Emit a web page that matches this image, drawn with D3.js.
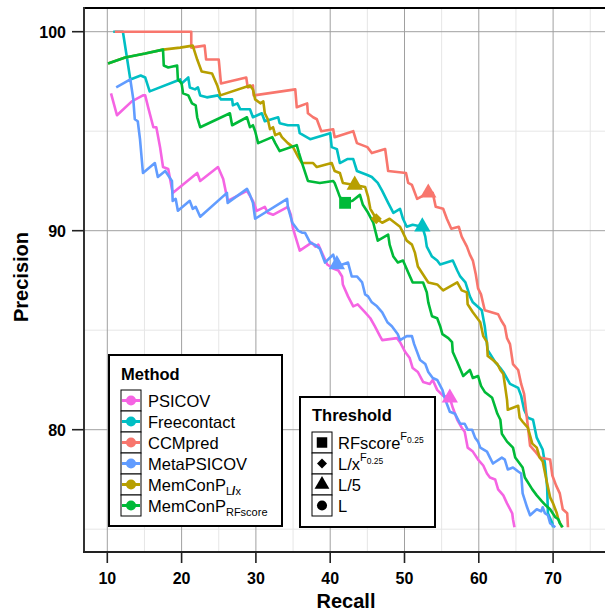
<!DOCTYPE html>
<html>
<head>
<meta charset="utf-8">
<script src="https://cdn.jsdelivr.net/npm/d3@7"></script>
<style>
  body { margin: 0; background: #fff; }
  text { font-family: "Liberation Sans", Arial, Helvetica, sans-serif; }
</style>
</head>
<body>
<div id="chart"></div>
<script>
// recall / precision pairs
var psicov = [[10.5,96.9],[11.3,95.8],[13.3,96.5],[14.8,96.8],[15.1,96.8],[15.5,96.2],[16.2,95.2],[16.6,95.2],[17.1,94.2],[17.5,93.2],[18.2,93.1],[18.8,91.9],[22.1,92.9],[22.5,92.5],[24.9,93.2],[25.6,92.6],[26.2,91.5],[28.8,92.0],[29.6,91.5],[30.1,91.0],[31.2,91.2],[31.6,90.9],[32.3,90.8],[34.3,91.2],[34.7,90.8],[35.0,90.1],[35.9,89.0],[37.5,89.4],[38.0,89.2],[38.4,89.3],[39.0,88.8],[39.6,88.3],[40.4,88.1],[41.1,88.0],[41.6,87.7],[41.7,87.3],[42.4,86.7],[43.1,86.2],[43.7,86.3],[44.7,85.9],[45.4,85.6],[46.0,85.2],[46.7,84.7],[47.0,84.5],[49.0,84.6],[49.4,84.4],[50.1,83.9],[50.7,83.6],[51.1,83.1],[51.8,82.9],[52.5,82.4],[53.4,82.3],[53.8,82.5],[54.4,82.0],[55.2,81.7],[56.1,81.6],[56.5,81.1],[57.1,80.5],[57.7,80.1],[58.1,79.9],[58.5,79.1],[59.2,78.9],[59.9,78.5],[60.6,78.2],[61.1,77.8],[61.5,77.6],[62.2,77.5],[62.6,77.0],[63.3,76.7],[63.8,76.3],[64.5,75.8],[64.6,75.5],[64.8,75.1]];

var freecontact = [[10.8,100],[12.1,100],[13.1,97.6],[14.5,97.8],[15.1,97.7],[15.7,97.0],[19.8,97.6],[20.0,97.4],[20.9,97.7],[21.1,97.2],[21.8,97.1],[22.2,97.2],[22.5,96.8],[23.4,96.7],[24.9,96.8],[25.3,96.6],[26.8,96.6],[26.9,96.3],[27.5,96.4],[27.9,96.1],[29.2,96.1],[29.6,95.7],[30.8,95.9],[31.2,95.5],[33.0,95.7],[33.2,95.4],[34.3,95.3],[35.7,95.3],[35.9,94.9],[37.3,94.6],[40.0,94.9],[40.2,94.2],[40.9,94.1],[41.3,93.4],[42.3,93.6],[43.1,93.6],[43.6,93.0],[45.0,92.8],[45.6,92.7],[46.4,92.4],[47.0,92.0],[47.8,91.4],[48.5,90.9],[49.4,91.1],[49.8,90.6],[50.3,90.2],[51.1,90.3],[52.4,90.2],[52.8,89.7],[53.0,89.2],[53.7,88.7],[54.4,88.5],[54.8,88.3],[56.5,88.5],[57.1,88.0],[57.5,87.7],[58.2,87.4],[58.8,86.7],[59.2,86.4],[60.4,86.0],[60.8,85.2],[61.2,84.0],[62.2,83.4],[62.9,83.1],[63.3,82.9],[64.2,82.3],[65.3,82.1],[65.7,81.7],[66.1,81.0],[66.6,80.6],[67.3,80.5],[67.8,79.6],[68.6,79.0],[68.9,78.3],[69.2,77.1],[69.3,75.8],[69.9,75.3],[70.0,75.1]];

var ccmpred = [[11.0,100],[21.3,100],[21.3,99.2],[23.1,99.3],[23.3,98.6],[24.2,98.6],[25.0,98.6],[25.3,97.4],[28.7,97.7],[28.9,97.2],[29.6,97.3],[29.7,96.8],[35.3,97.1],[35.5,96.2],[36.9,96.4],[37.0,95.9],[37.7,95.7],[38.2,95.6],[38.8,95.0],[40.4,95.1],[40.6,94.7],[43.1,95.0],[43.6,94.4],[45.0,94.2],[45.6,93.9],[47.4,94.1],[47.8,93.0],[50.2,92.9],[50.5,92.4],[51.0,92.3],[51.7,91.6],[53.2,91.9],[53.8,91.9],[54.2,91.2],[55.2,91.1],[55.7,90.6],[56.3,90.1],[57.3,90.2],[57.7,89.7],[58.4,89.2],[58.8,88.8],[59.2,88.5],[59.6,87.8],[59.9,87.1],[60.3,86.8],[60.8,86.0],[62.6,85.8],[63.0,85.5],[63.5,85.2],[63.8,84.6],[64.2,84.3],[64.6,83.3],[65.3,83.0],[65.7,82.3],[66.1,81.8],[66.5,80.5],[66.9,79.2],[67.6,78.9],[68.2,78.6],[69.6,78.5],[69.9,77.7],[70.4,77.2],[70.9,76.8],[71.3,76.0],[71.9,75.8],[72.0,75.1]];

var metapsicov = [[11.2,97.2],[13.1,97.6],[13.5,96.6],[13.7,95.6],[14.1,95.5],[14.4,94.6],[14.8,92.9],[16.4,93.4],[16.8,92.7],[17.8,93.0],[18.7,92.5],[18.8,91.5],[19.2,91.6],[19.5,91.0],[21.1,91.5],[21.5,91.1],[21.9,91.2],[22.5,90.7],[26.1,91.9],[26.2,91.4],[28.8,92.1],[29.2,91.8],[29.6,91.4],[29.9,90.6],[34.2,91.6],[34.3,91.2],[34.9,90.4],[35.7,90.0],[36.2,89.9],[36.6,89.9],[37.3,89.4],[37.9,89.3],[38.6,89.1],[39.3,88.4],[40.4,88.8],[40.9,88.2],[42.4,88.4],[42.9,87.7],[43.6,87.7],[44.3,87.4],[44.7,86.8],[45.1,86.7],[45.6,86.4],[46.3,86.2],[47.0,85.9],[47.7,85.4],[48.3,85.2],[49.1,84.8],[49.4,84.5],[50.3,84.7],[51.0,84.7],[51.3,84.3],[52.1,83.5],[52.8,83.3],[53.2,82.9],[53.8,82.6],[54.4,82.5],[55.1,82.0],[55.4,81.6],[55.9,81.1],[56.1,80.9],[56.8,80.8],[57.5,80.3],[58.1,80.3],[58.5,80.0],[59.1,80.0],[59.5,79.6],[59.9,79.4],[60.2,79.1],[61.1,78.9],[61.5,78.6],[61.9,78.3],[63.1,78.6],[63.5,78.5],[63.9,78.0],[64.6,78.1],[65.3,77.9],[65.7,77.8],[65.9,76.8],[66.5,76.1],[66.9,75.7],[67.8,76.0],[68.4,75.9],[68.6,76.1],[68.9,75.8],[69.3,75.7],[69.6,75.3],[70.3,75.1]];

var memconpLx = [[10.1,98.4],[12.4,98.7],[15.1,98.9],[17.5,99.1],[19.8,99.2],[21.5,99.3],[22.1,98.6],[22.7,98.0],[24.1,97.9],[24.8,97.3],[25.2,96.8],[29.2,97.3],[29.6,97.1],[29.9,96.6],[30.6,96.4],[31.0,96.5],[31.2,95.9],[31.6,95.6],[31.9,95.1],[32.3,95.2],[32.6,94.8],[33.2,94.9],[33.5,94.7],[34.3,94.4],[35.0,94.2],[35.7,93.7],[36.2,93.4],[37.7,93.4],[38.2,93.2],[40.2,93.4],[40.6,93.0],[41.3,92.9],[41.7,92.4],[43.3,92.3],[44.7,92.2],[45.1,91.7],[45.4,91.1],[46.2,90.6],[47.0,90.4],[48.0,90.6],[48.7,90.4],[49.4,90.2],[49.8,89.9],[50.3,89.5],[51.0,89.3],[51.4,88.9],[51.8,88.2],[52.5,87.8],[53.2,87.4],[54.4,87.3],[55.2,87.0],[57.1,87.4],[57.7,87.0],[58.4,86.9],[58.5,86.3],[59.2,85.9],[60.2,85.4],[60.6,84.7],[61.1,84.4],[61.2,83.7],[61.9,83.5],[62.5,83.3],[62.9,83.0],[63.3,82.8],[63.8,81.5],[63.9,81.0],[65.3,81.2],[65.5,80.6],[65.9,80.4],[66.6,80.1],[67.2,79.3],[67.8,79.1],[68.2,78.6],[68.6,78.4],[69.2,77.3],[69.6,76.6],[70.0,76.3],[70.5,75.8],[70.7,75.5],[71.2,75.1]];

var memconpRF = [[10.1,98.4],[12.4,98.7],[15.1,98.9],[17.5,99.1],[17.6,98.3],[18.2,98.2],[19.4,98.3],[19.5,97.6],[20.0,97.4],[20.2,96.9],[20.9,96.8],[21.4,96.4],[21.9,96.3],[22.1,95.7],[22.5,95.2],[26.5,95.9],[26.8,95.3],[28.8,95.7],[29.2,95.2],[29.6,95.3],[29.9,95.0],[30.3,94.4],[32.2,94.7],[32.6,94.4],[33.2,94.0],[35.5,94.3],[35.8,93.9],[36.3,93.3],[37.0,92.5],[38.6,92.4],[40.4,92.5],[40.6,92.4],[40.9,92.1],[41.3,91.7],[42.0,91.4],[43.0,91.5],[44.0,91.8],[44.4,91.3],[45.1,90.9],[45.8,90.4],[46.4,89.5],[47.8,89.8],[48.0,89.3],[48.5,88.7],[49.1,88.4],[49.8,88.5],[50.5,87.9],[51.1,87.4],[52.5,87.4],[53.0,86.9],[53.2,86.4],[53.7,85.7],[54.4,85.6],[54.8,85.2],[55.1,84.8],[55.9,84.6],[56.4,84.4],[56.5,83.9],[57.1,83.4],[57.9,82.7],[58.8,83.0],[59.2,82.6],[59.9,82.7],[60.3,82.2],[60.8,81.9],[61.8,81.6],[62.5,80.8],[62.9,80.5],[63.1,79.8],[63.8,79.4],[64.6,79.1],[64.9,78.6],[65.9,78.1],[66.2,77.6],[67.2,77.0],[67.8,76.7],[68.5,76.4],[69.0,76.2],[69.6,76.0],[70.3,75.6],[70.7,75.5],[70.9,75.3],[71.3,75.1]];

var methodNames = ["PSICOV", "Freecontact", "CCMpred", "MetaPSICOV", "MemConP_Lx", "MemConP_RF"];
var methodData = [psicov, freecontact, ccmpred, metapsicov, memconpLx, memconpRF];
var methodColors = ["#F564E3", "#00BFC4", "#F8766D", "#619CFF", "#B79F00", "#00BA38"];

// threshold markers: method index, shape, recall, precision
var markerMethod = [2, 1, 3, 0, 4, 4, 5];
var markerShape = ["L/5", "L/5", "L/5", "L/5", "L/5", "L/x", "RFscore"];
var markerRecall = [53.2, 52.4, 40.9, 56.1, 43.3, 46.2, 42.0];
var markerPrecision = [91.9, 90.2, 88.3, 81.6, 92.3, 90.6, 91.4];

var xTicks = [10, 20, 30, 40, 50, 60, 70];
var yTicks = [80, 90, 100];
var xMinor = [15, 25, 35, 45, 55, 65, 75];
var yMinor = [75, 85, 95];

var W = 605, H = 614;
var pLeft = 84, pTop = 8, pBottom = 552, pRight = 620;

var x = d3.scaleLinear().domain([10, 70]).range([107.3, 553.1]);
var y = d3.scaleLinear().domain([80, 100]).range([429.7, 31.7]);

var svg = d3.select("#chart").append("svg")
    .attr("width", W)
    .attr("height", H);

svg.append("defs").append("clipPath").attr("id", "clip")
    .append("rect")
    .attr("x", pLeft).attr("y", pTop)
    .attr("width", pRight - pLeft).attr("height", pBottom - pTop);

// grid
var grid = svg.append("g");
grid.selectAll(".vmin").data(xMinor).enter().append("line")
    .attr("x1", function(d){ return x(d); }).attr("x2", function(d){ return x(d); })
    .attr("y1", pTop).attr("y2", pBottom)
    .attr("stroke", "#e6e6e6").attr("stroke-width", 1);
grid.selectAll(".hmin").data(yMinor).enter().append("line")
    .attr("x1", pLeft).attr("x2", pRight)
    .attr("y1", function(d){ return y(d); }).attr("y2", function(d){ return y(d); })
    .attr("stroke", "#e6e6e6").attr("stroke-width", 1);
grid.selectAll(".vmaj").data(xTicks).enter().append("line")
    .attr("x1", function(d){ return x(d); }).attr("x2", function(d){ return x(d); })
    .attr("y1", pTop).attr("y2", pBottom)
    .attr("stroke", "#a0a0a0").attr("stroke-width", 1);
grid.selectAll(".hmaj").data(yTicks).enter().append("line")
    .attr("x1", pLeft).attr("x2", pRight)
    .attr("y1", function(d){ return y(d); }).attr("y2", function(d){ return y(d); })
    .attr("stroke", "#a0a0a0").attr("stroke-width", 1);

// curves
var line = d3.line()
    .x(function(d){ return x(d[0]); })
    .y(function(d){ return y(d[1]); });

var plot = svg.append("g").attr("clip-path", "url(#clip)");
for (var i = 0; i < methodData.length; i++) {
    plot.append("path")
        .attr("d", line(methodData[i]))
        .attr("fill", "none")
        .attr("stroke", methodColors[i])
        .attr("stroke-width", 2.6)
        .attr("stroke-linejoin", "round");
}

function shapePath(s, big) {
    if (s === "RFscore") return d3.symbol().type(d3.symbolSquare).size(big ? 140 : 110)();
    if (s === "L/x") return d3.symbol().type(d3.symbolSquare).size(big ? 60 : 50)();
    if (s === "L/5") return d3.symbol().type(d3.symbolTriangle).size(big ? 115 : 95)();
    return d3.symbol().type(d3.symbolCircle).size(big ? 90 : 80)();
}

for (var k = 0; k < markerMethod.length; k++) {
    plot.append("path")
        .attr("d", shapePath(markerShape[k], true))
        .attr("fill", methodColors[markerMethod[k]])
        .attr("transform", "translate(" + x(markerRecall[k]) + "," + y(markerPrecision[k]) + ")" +
              (markerShape[k] === "L/x" ? " rotate(45)" : ""));
}

// panel border / axes
svg.append("line").attr("x1", pLeft).attr("x2", W).attr("y1", pTop).attr("y2", pTop)
    .attr("stroke", "#000").attr("stroke-width", 2);
svg.append("line").attr("x1", pLeft).attr("x2", pLeft).attr("y1", pTop - 1).attr("y2", pBottom + 1)
    .attr("stroke", "#333").attr("stroke-width", 2);
svg.append("line").attr("x1", pLeft - 1).attr("x2", W).attr("y1", pBottom).attr("y2", pBottom)
    .attr("stroke", "#222").attr("stroke-width", 2);

var xAxis = svg.append("g");
xAxis.selectAll("line").data(xTicks).enter().append("line")
    .attr("x1", function(d){ return x(d); }).attr("x2", function(d){ return x(d); })
    .attr("y1", pBottom).attr("y2", pBottom + 11)
    .attr("stroke", "#222").attr("stroke-width", 1.6);
xAxis.selectAll("text").data(xTicks).enter().append("text")
    .attr("x", function(d){ return x(d); })
    .attr("y", 584)
    .attr("text-anchor", "middle")
    .attr("font-size", "16px").attr("font-weight", "bold")
    .text(function(d){ return d; });

var yAxis = svg.append("g");
yAxis.selectAll("line").data(yTicks).enter().append("line")
    .attr("x1", pLeft - 12).attr("x2", pLeft)
    .attr("y1", function(d){ return y(d); }).attr("y2", function(d){ return y(d); })
    .attr("stroke", "#222").attr("stroke-width", 1.6);
yAxis.selectAll("text").data(yTicks).enter().append("text")
    .attr("x", 66)
    .attr("y", function(d){ return y(d) + 6; })
    .attr("text-anchor", "end")
    .attr("font-size", "16px").attr("font-weight", "bold")
    .text(function(d){ return d; });

svg.append("text")
    .attr("x", 346).attr("y", 608)
    .attr("text-anchor", "middle")
    .attr("font-size", "20px").attr("font-weight", "bold")
    .text("Recall");
svg.append("text")
    .attr("transform", "translate(28,277) rotate(-90)")
    .attr("text-anchor", "middle")
    .attr("font-size", "20px").attr("font-weight", "bold")
    .text("Precision");

// method legend
var leg = svg.append("g");
leg.append("rect").attr("x", 109).attr("y", 355).attr("width", 173).attr("height", 171)
    .attr("fill", "#fff").attr("stroke", "#000").attr("stroke-width", 2);
leg.append("text").attr("x", 121).attr("y", 380)
    .attr("font-size", "16.5px").attr("font-weight", "bold").text("Method");

var rowH = 21;
for (var m = 0; m < methodNames.length; m++) {
    var ty = 390 + m * rowH;
    leg.append("rect").attr("x", 121).attr("y", ty).attr("width", 20).attr("height", rowH)
        .attr("fill", "#fff").attr("stroke", "#000").attr("stroke-width", 1);
    leg.append("line").attr("x1", 122).attr("x2", 140).attr("y1", ty + rowH / 2).attr("y2", ty + rowH / 2)
        .attr("stroke", methodColors[m]).attr("stroke-width", 3);
    leg.append("circle").attr("cx", 131).attr("cy", ty + rowH / 2).attr("r", 5)
        .attr("fill", methodColors[m]);
    var t = leg.append("text").attr("x", 148).attr("y", ty + 16.5).attr("font-size", "16.5px");
    if (methodNames[m] === "MemConP_Lx") {
        t.append("tspan").text("MemConP");
        t.append("tspan").attr("font-size", "11px").attr("dy", 4).text("L");
        t.append("tspan").attr("font-size", "12px").attr("font-weight", "bold").text("/");
        t.append("tspan").attr("font-size", "11px").text("x");
    } else if (methodNames[m] === "MemConP_RF") {
        t.append("tspan").text("MemConP");
        t.append("tspan").attr("font-size", "11px").attr("dy", 4).text("RFscore");
    } else {
        t.text(methodNames[m]);
    }
}

// threshold legend
var thrNames = ["RFscore", "L/x", "L/5", "L"];
var tl = svg.append("g");
tl.append("rect").attr("x", 300).attr("y", 397).attr("width", 135).attr("height", 130)
    .attr("fill", "#fff").attr("stroke", "#000").attr("stroke-width", 2);
tl.append("text").attr("x", 312).attr("y", 421)
    .attr("font-size", "16.5px").attr("font-weight", "bold").text("Threshold");
for (var n = 0; n < thrNames.length; n++) {
    var ry = 432 + n * 21;
    tl.append("rect").attr("x", 312).attr("y", ry).attr("width", 20).attr("height", 21)
        .attr("fill", "#fff").attr("stroke", "#000").attr("stroke-width", 1);
    tl.append("path").attr("d", shapePath(thrNames[n], false))
        .attr("fill", "#000")
        .attr("transform", "translate(322," + (ry + 10.5) + ")" + (thrNames[n] === "L/x" ? " rotate(45)" : ""));
    var tt = tl.append("text").attr("x", 338).attr("y", ry + 16.5).attr("font-size", "16.5px");
    if (thrNames[n] === "RFscore" || thrNames[n] === "L/x") {
        tt.append("tspan").text(thrNames[n]);
        tt.append("tspan").attr("font-size", "11px").attr("dy", -9).text("F");
        tt.append("tspan").attr("font-size", "8.5px").attr("dy", 3).text("0.25");
    } else {
        tt.text(thrNames[n]);
    }
}
</script>
</body>
</html>
